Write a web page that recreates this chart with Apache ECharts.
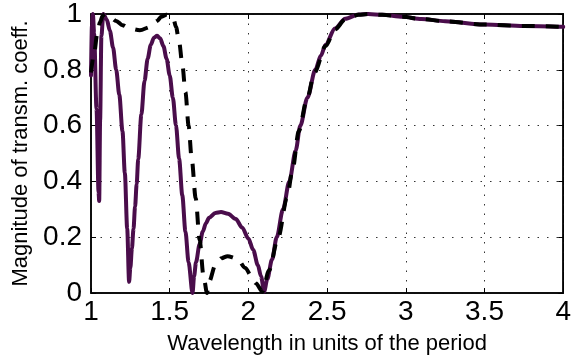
<!DOCTYPE html>
<html>
<head>
<meta charset="utf-8">
<script src="https://cdn.jsdelivr.net/npm/echarts@6/dist/echarts.min.js"></script>
<style>
html,body{margin:0;padding:0;background:#fff;}
#chart{width:574px;height:362px;}
</style>
</head>
<body>
<div id="chart"></div>
<script>
// Solid curve (dark purple)
var solidX = [1.000,1.006,1.012,1.020,1.035,1.048,1.052,1.058,1.066,1.078,1.100,1.120,1.140,1.160,1.180,1.200,1.215,1.230,1.242,1.250,1.260,1.270,1.280,1.290,1.300,1.320,1.340,1.360,1.380,1.400,1.420,1.440,1.460,1.480,1.500,1.520,1.540,1.560,1.580,1.600,1.620,1.645,1.655,1.667,1.690,1.710,1.730,1.750,1.790,1.826,1.870,1.920,1.960,2.000,2.030,2.060,2.080,2.100,2.120,2.150,2.180,2.220,2.260,2.300,2.330,2.375,2.425,2.460,2.490,2.550,2.615,2.700,2.760,2.850,2.980,3.100,3.250,3.500,3.750,4.000];
var solidY = [0.78,0.96,1.00,0.93,0.66,0.36,0.33,0.62,0.92,1.00,0.98,0.94,0.88,0.80,0.71,0.58,0.43,0.23,0.04,0.09,0.16,0.23,0.31,0.39,0.48,0.64,0.76,0.84,0.89,0.915,0.922,0.912,0.885,0.84,0.78,0.70,0.60,0.48,0.35,0.22,0.11,0.0,0.06,0.11,0.175,0.22,0.25,0.27,0.287,0.29,0.284,0.265,0.235,0.195,0.155,0.10,0.06,0.005,0.05,0.12,0.20,0.30,0.40,0.51,0.60,0.70,0.80,0.85,0.89,0.948,0.983,0.998,1.0,0.997,0.99,0.982,0.974,0.962,0.957,0.954];
// Dashed curve (black)
var dashX = [1.000,1.020,1.040,1.057,1.075,1.090,1.120,1.160,1.200,1.246,1.310,1.380,1.420,1.446,1.480,1.505,1.525,1.540,1.560,1.580,1.600,1.620,1.640,1.665,1.690,1.715,1.737,1.750,1.790,1.830,1.867,1.930,1.980,2.020,2.047,2.090,2.130,2.190,2.245,2.280,2.320,2.370,2.420,2.490,2.550,2.615,2.700,2.760,2.850,2.980,3.100,3.250,3.500,3.750,4.000];
var dashY = [0.79,0.86,0.93,0.97,0.995,1.0,0.99,0.975,0.96,0.948,0.942,0.954,0.975,0.99,0.997,0.995,0.98,0.954,0.90,0.82,0.72,0.60,0.48,0.34,0.19,0.06,0.0,0.04,0.10,0.125,0.132,0.123,0.09,0.06,0.035,0.005,0.08,0.20,0.34,0.44,0.58,0.69,0.79,0.885,0.945,0.98,0.997,1.0,0.997,0.99,0.982,0.974,0.962,0.957,0.954];
var xTicks = [1, 1.5, 2, 2.5, 3, 3.5, 4];
var yTicks = [0, 0.2, 0.4, 0.6, 0.8, 1];

function zip(a, b) { return a.map(function (v, i) { return [v, b[i]]; }); }

var FONT = '"Liberation Sans", Arial, sans-serif';
var chart = echarts.init(document.getElementById('chart'), null, {renderer: 'canvas'});
var gridLine = {show: true, lineStyle: {color: '#333', width: 1, type: [1.5, 8]}};
var option = {
  backgroundColor: '#fff',
  animation: false,
  grid: {left: 91, right: 8, top: 12, bottom: 69, show: true, borderColor: '#000', borderWidth: 1.5, backgroundColor: 'transparent'},
  xAxis: [{
    type: 'value', min: xTicks[0], max: xTicks[xTicks.length - 1], interval: 0.5,
    name: 'Wavelength in units of the period', nameLocation: 'middle', nameGap: 40,
    nameTextStyle: {fontFamily: FONT, fontSize: 22, color: '#000'},
    axisLine: {show: true, onZero: false, lineStyle: {color: '#000', width: 1.5}},
    axisTick: {show: true, inside: true, length: 5, lineStyle: {color: '#000', width: 1}},
    axisLabel: {fontFamily: FONT, fontSize: 28, color: '#000', margin: 5},
    splitLine: gridLine
  }, {
    type: 'value', position: 'top', min: xTicks[0], max: xTicks[xTicks.length - 1], interval: 0.5,
    axisLine: {show: true, onZero: false, lineStyle: {color: '#000', width: 1.5}},
    axisTick: {show: true, inside: true, length: 5, lineStyle: {color: '#000', width: 1}},
    axisLabel: {show: false}, splitLine: {show: false}
  }],
  yAxis: [{
    type: 'value', min: yTicks[0], max: yTicks[yTicks.length - 1], interval: 0.2,
    name: 'Magnitude of transm. coeff.', nameLocation: 'middle', nameGap: 52,
    nameTextStyle: {fontFamily: FONT, fontSize: 22, color: '#000'},
    axisLine: {show: true, onZero: false, lineStyle: {color: '#000', width: 1.5}},
    axisTick: {show: true, inside: true, length: 5, lineStyle: {color: '#000', width: 1}},
    axisLabel: {fontFamily: FONT, fontSize: 28, color: '#000', margin: 9},
    splitLine: gridLine
  }, {
    type: 'value', position: 'right', min: yTicks[0], max: yTicks[yTicks.length - 1], interval: 0.2,
    axisLine: {show: true, onZero: false, lineStyle: {color: '#000', width: 1.5}},
    axisTick: {show: true, inside: true, length: 5, lineStyle: {color: '#000', width: 1}},
    axisLabel: {show: false}, splitLine: {show: false}
  }],
  series: [{
    type: 'line', data: zip(solidX, solidY), showSymbol: false, symbol: 'none',
    smooth: 0.3, smoothMonotone: 'x',
    lineStyle: {color: '#4a0d4b', width: 4, cap: 'round', join: 'round'}, clip: false
  }, {
    type: 'line', data: zip(dashX, dashY), showSymbol: false, symbol: 'none',
    smooth: 0.3, smoothMonotone: 'x',
    lineStyle: {color: '#000', width: 4, type: [13, 11], join: 'round'}, clip: false
  }]
};
chart.setOption(option);
</script>
</body>
</html>
